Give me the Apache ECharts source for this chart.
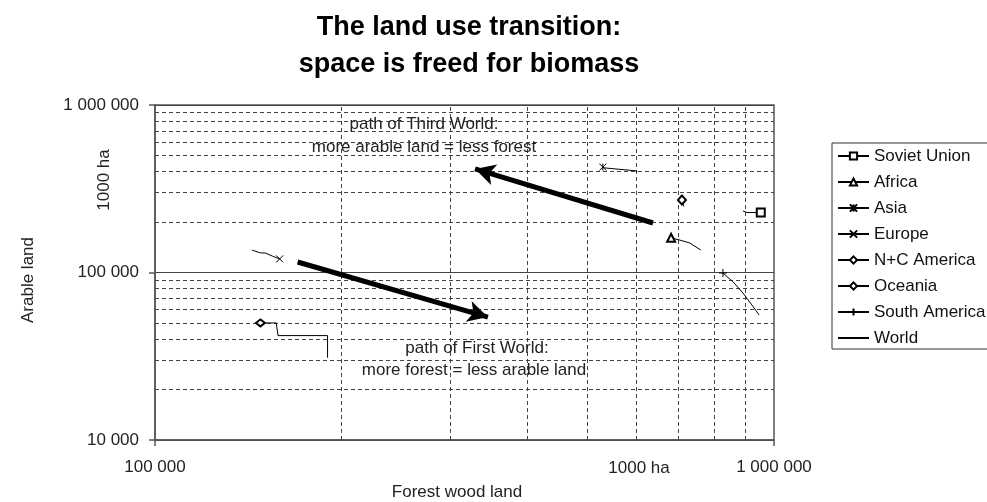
<!DOCTYPE html>
<html><head><meta charset="utf-8">
<script src="https://cdn.jsdelivr.net/npm/echarts@6/dist/echarts.min.js"></script>
<style>html,body{margin:0;padding:0;background:#fff}#c{width:987px;height:502px}</style>
</head><body><div id="c"></div>
<script>
// ---- data (forest wood land, arable land; 1000 ha) ----
const seriesNames = ['Soviet Union','Africa','Asia','Europe','N+C America','Oceania','South America','World'];
const sovietX = [952000, 904000, 891000];
const sovietY = [228000, 228000, 233000];
const africaX = [682000, 705000, 731000, 762000];
const africaY = [161000, 156000, 150000, 136000];
const asiaX = [529000, 533000, 600000, 600000];
const asiaY = [426000, 421000, 404000, 398000];
const europeX = [159000, 155000, 151000, 148000, 143500];
const europeY = [120500, 125000, 130500, 131000, 136000];
const ncAmericaX = [710000, 715000];
const ncAmericaY = [271000, 248000];
const oceaniaX = [148000, 157000, 158000, 190000, 190000];
const oceaniaY = [50000, 50000, 42000, 42000, 31000];
const southAmericaX = [827000, 859000, 891000, 921000, 946000];
const southAmericaY = [99300, 87800, 75400, 64000, 55800];
const worldX = [];
const worldY = [];
// arrows: [fromX, fromY, toX, toY]
const arrowThirdWorld = [637600, 197500, 328900, 415000];
const arrowFirstWorld = [170000, 115500, 345000, 54200];
// gridline values
const gridXValues = [200000, 300000, 400000, 500000, 600000, 700000, 800000, 900000];
const gridYValues = [20000, 30000, 40000, 50000, 60000, 70000, 80000, 90000,
                     200000, 300000, 400000, 500000, 600000, 700000, 800000, 900000];
const titleLines = ['The land use transition:', 'space is freed for biomass'];
const thirdWorldText = ['path of Third World:', 'more arable land = less forest'];
const firstWorldText = ['path of First World:', 'more forest = less arable land'];

const FONT = "'Liberation Sans', Arial, sans-serif";

function pts(xs, ys) {
  return xs.map((x, i) => i === 0 ? { value: [x, ys[i]] } : { value: [x, ys[i]], symbol: 'none' });
}
const symbols = {
  'Soviet Union': ['emptyRect', 8],
  'Africa': ['emptyTriangle', 8],
  'Asia': ['path://M0,0L10,10M10,0L0,10M5,0L5,10', 7],
  'Europe': ['path://M0,0L10,10M10,0L0,10', 7],
  'N+C America': ['emptyDiamond', [8, 9]],
  'Oceania': ['emptyDiamond', [9, 7]],
  'South America': ['path://M5,0L5,10M0,5L10,5', 8],
  'World': ['none', 0]
};
const dataSets = {
  'Soviet Union': [sovietX, sovietY],
  'Africa': [africaX, africaY],
  'Asia': [asiaX, asiaY],
  'Europe': [europeX, europeY],
  'N+C America': [ncAmericaX, ncAmericaY],
  'Oceania': [oceaniaX, oceaniaY],
  'South America': [southAmericaX, southAmericaY],
  'World': [worldX, worldY]
};

const fmt = v => String(Math.round(v)).replace(/\B(?=(\d{3})+(?!\d))/g, ' ');

const series = seriesNames.map(n => ({
  name: n,
  type: 'line',
  data: pts(dataSets[n][0], dataSets[n][1]),
  symbol: symbols[n][0],
  symbolSize: symbols[n][1],
  showAllSymbol: true,
  lineStyle: { color: '#000', width: 1 },
  itemStyle: { color: '#000', borderColor: '#000', borderWidth: 1 },
  z: 5
}));

series.push({
  name: '_grid', type: 'line', data: [], silent: true, symbol: 'none', z: 1,
  markLine: {
    silent: true, symbol: ['none', 'none'], label: { show: false }, animation: false,
    lineStyle: { type: [4, 3], color: '#444', width: 1 },
    emphasis: { disabled: true },
    data: gridYValues.map(v => ({ yAxis: v })).concat(gridXValues.map(v => ({ xAxis: v })))
  }
});
series.push({
  name: '_arrows', type: 'line', data: [], silent: true, symbol: 'none', z: 6,
  markLine: {
    silent: true, symbol: ['none', 'arrow'], symbolSize: [16, 20], label: { show: false }, animation: false,
    lineStyle: { type: 'solid', color: '#000', width: 5 },
    emphasis: { disabled: true },
    data: [arrowThirdWorld, arrowFirstWorld].map(a => [{ coord: [a[0], a[1]] }, { coord: [a[2], a[3]] }])
  }
});

function txt(s, x, y, size, opts) {
  return Object.assign({
    type: 'text', x: x, y: y, z: 10, silent: true,
    style: Object.assign({ text: s, font: (opts && opts.bold ? 'bold ' : '') + size + 'px ' + FONT,
      fill: '#222', align: 'center', verticalAlign: 'middle' }, opts && opts.style)
  }, opts && opts.extra);
}

const option = {
  animation: false,
  backgroundColor: '#fff',
  grid: { left: 155, right: 213, top: 105, bottom: 62, show: true, borderColor: '#555', borderWidth: 1.5, backgroundColor: 'transparent' },
  xAxis: {
    type: 'log', logBase: 10, min: 100000, max: 1000000,
    axisLine: { show: true, lineStyle: { color: '#555', width: 1.5 } },
    axisTick: { show: true, length: 6, lineStyle: { color: '#555', width: 1.5 } },
    axisLabel: { formatter: fmt, fontSize: 17, color: '#222', fontFamily: FONT, margin: 19 },
    splitLine: { show: false }
  },
  yAxis: {
    type: 'log', logBase: 10, min: 10000, max: 1000000,
    axisLine: { show: true, lineStyle: { color: '#555', width: 1.5 } },
    axisTick: { show: true, length: 6, lineStyle: { color: '#555', width: 1.5 } },
    axisLabel: { formatter: fmt, fontSize: 17, color: '#222', fontFamily: FONT, margin: 16 },
    splitLine: { show: true, lineStyle: { color: '#444', width: 1.2, type: 'solid' } }
  },
  legend: {
    data: seriesNames.map(n => n === 'World' ? { name: n, itemStyle: { opacity: 0 } } : n),
    orient: 'vertical', left: 832, top: 143,
    itemWidth: 31, itemHeight: 9, itemGap: 8, padding: [4, 5, 2, 5],
    borderColor: '#333', borderWidth: 1, backgroundColor: '#fff',
    selectedMode: false,
    textStyle: { fontSize: 17, color: '#111', fontFamily: FONT, lineHeight: 18 }
  },
  graphic: [
    txt(titleLines[0], 469, 28, 27, { bold: true, style: { fill: '#000' } }),
    txt(titleLines[1], 469, 65, 27, { bold: true, style: { fill: '#000' } }),
    txt(thirdWorldText[0], 424, 124, 17),
    txt(thirdWorldText[1], 424, 147, 17),
    txt(firstWorldText[0], 477, 348, 17),
    txt(firstWorldText[1], 474, 370, 17),
    txt('1000 ha', 104, 180, 17, { extra: { rotation: Math.PI / 2 } }),
    txt('Arable land', 28, 280, 17, { extra: { rotation: Math.PI / 2 } }),
    txt('1000 ha', 639, 468, 17),
    txt('Forest wood land', 457, 492, 17)
  ],
  series: series
};
const chart = echarts.init(document.getElementById('c'), null, { renderer: 'canvas' });
chart.setOption(option);
</script>
</body></html>
